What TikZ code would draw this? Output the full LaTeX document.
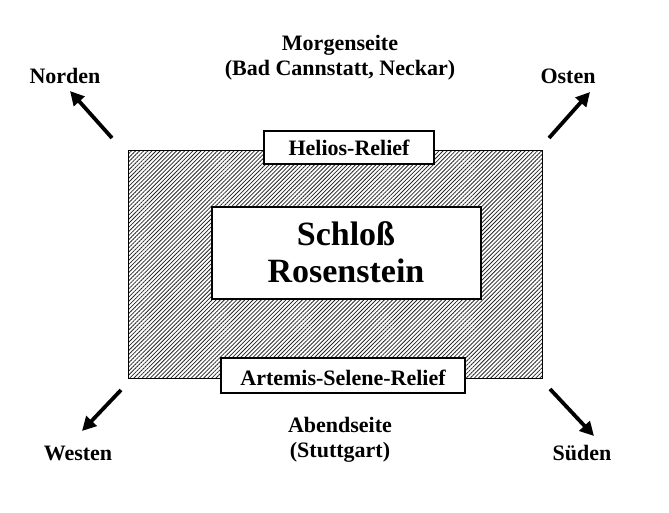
\documentclass[tikz,border=0pt]{standalone}
\usepackage{fontspec}
\setmainfont{Liberation Serif}
\usetikzlibrary{patterns.meta,arrows.meta}
\begin{document}
\begin{tikzpicture}[x=1pt,y=-1pt,
  lbl/.style={font=\bfseries\fontsize{22}{25}\selectfont, inner sep=0pt, align=center},
  wbox/.style={draw=black, line width=1.2pt, fill=white, inner sep=0pt},
  dirarrow/.style={line width=3.8pt, -{Triangle[length=14pt,width=14pt]}}]
\useasboundingbox (0,0) rectangle (669,512);
% hatched body
\node[draw=black, line width=1pt, minimum width=414pt, minimum height=228pt, inner sep=0pt,
      pattern={Lines[angle=45,distance=2.9pt,line width=0.8pt]}, pattern color=black!85] (body) at (335,264) {};
% inner boxes
\node[wbox, minimum width=269pt, minimum height=92pt] (schloss) at (346.5,253) {};
\node[lbl, font=\bfseries\fontsize{34}{37}\selectfont] (title) at (346,252) {Schloß\\Rosenstein};
\node[wbox, minimum width=170pt, minimum height=33pt] (helios) at (349,147.5) {};
\node[lbl] (heliost) at (349,148) {Helios-Relief};
\node[wbox, minimum width=244pt, minimum height=35pt] (artemis) at (343,375.5) {};
\node[lbl] (artemist) at (343,378) {Artemis-Selene-Relief};
% side labels
\node[lbl] (morgen) at (340,58) {Morgenseite\\(Bad Cannstatt, Neckar)};
\node[lbl] (abend) at (340,440) {Abendseite\\(Stuttgart)};
\node[lbl] (norden) at (65,76) {Norden};
\node[lbl] (osten) at (568,76) {Osten};
\node[lbl] (westen) at (78,453) {Westen};
\node[lbl] (sueden) at (582,453) {Süden};
% arrow coordinates
\coordinate (nw1) at (112,138); \coordinate (nw2) at (70,91);
\coordinate (ne1) at (549,138); \coordinate (ne2) at (590,92);
\coordinate (sw1) at (121,390); \coordinate (sw2) at (82,431);
\coordinate (se1) at (550,389); \coordinate (se2) at (594,436);
\draw[dirarrow] (nw1) -- (nw2);
\draw[dirarrow] (ne1) -- (ne2);
\draw[dirarrow] (sw1) -- (sw2);
\draw[dirarrow] (se1) -- (se2);
\end{tikzpicture}
\end{document}
